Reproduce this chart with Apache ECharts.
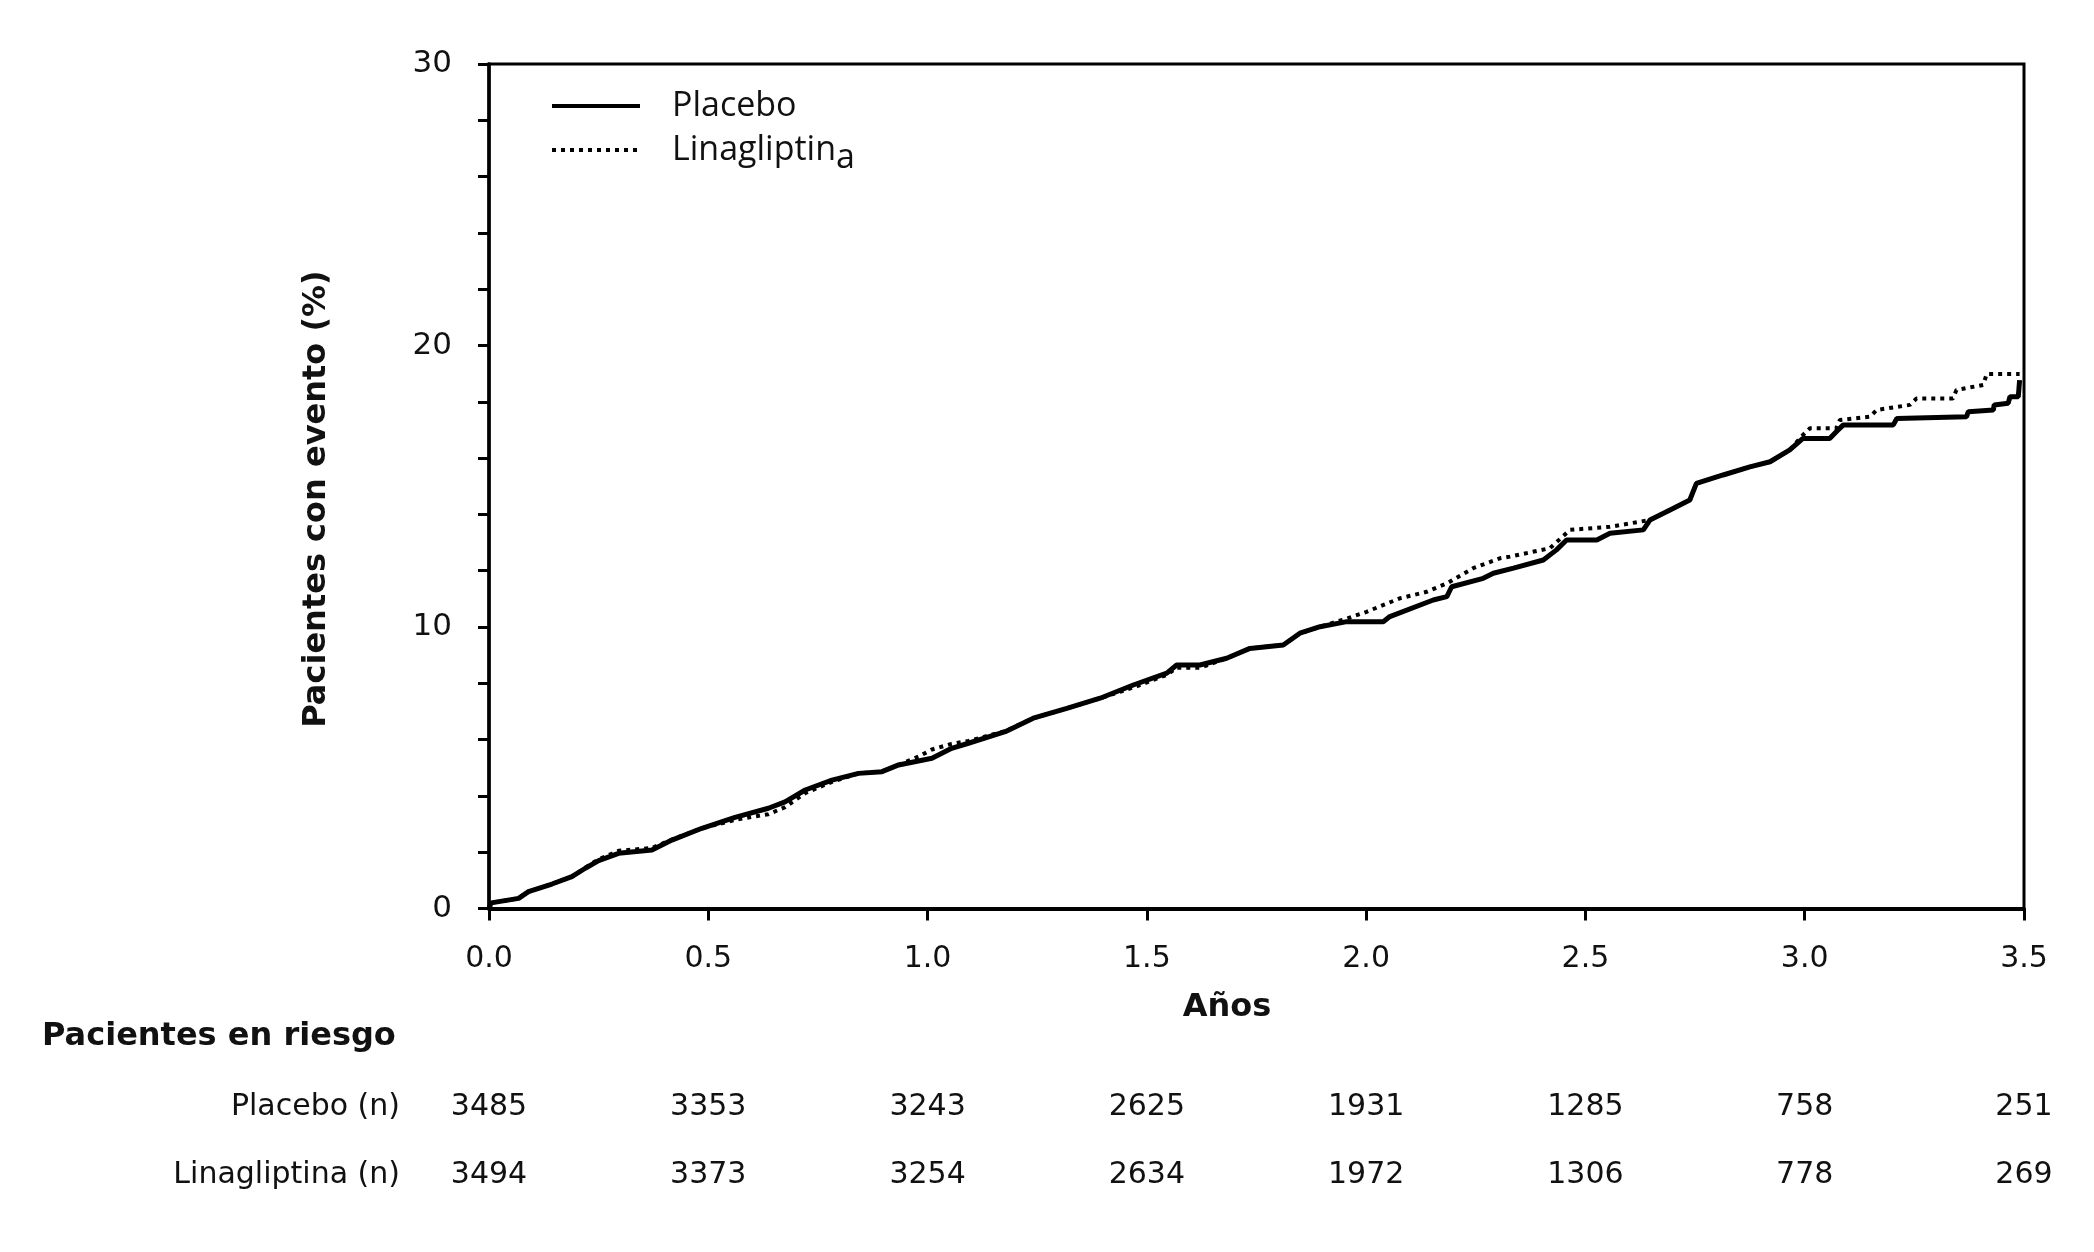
<!DOCTYPE html>
<html>
<head>
<meta charset="utf-8">
<script src="https://cdn.jsdelivr.net/npm/echarts@6/dist/echarts.min.js"></script>
<style>
html,body{margin:0;padding:0;background:#fff;}
#chart{width:2094px;height:1252px;}
</style>
</head>
<body>
<div id="chart"></div>
<script>
// ---- data ----
const xTicks = [0, 0.5, 1.0, 1.5, 2.0, 2.5, 3.0, 3.5];
const riskPlacebo = [3485, 3353, 3243, 2625, 1931, 1285, 758, 251];
const riskLina = [3494, 3373, 3254, 2634, 1972, 1306, 778, 269];

const placeboTime = [0, 0.005, 0.0675, 0.09, 0.1436, 0.189, 0.2195, 0.25, 0.2955, 0.3716, 0.417, 0.4855, 0.561, 0.637, 0.675, 0.721, 0.782, 0.8425, 0.896, 0.934, 1.01, 1.055, 1.093, 1.177, 1.241, 1.3175, 1.3934, 1.469, 1.5455, 1.568, 1.621, 1.682, 1.735, 1.811, 1.849, 1.895, 1.956, 2.039, 2.054, 2.153, 2.184, 2.195, 2.267, 2.29, 2.336, 2.404, 2.434, 2.457, 2.526, 2.556, 2.632, 2.647, 2.693, 2.738, 2.753, 2.814, 2.875, 2.921, 2.966, 2.996, 3.057, 3.072, 3.088, 3.202, 3.21, 3.369, 3.373, 3.43, 3.432, 3.464, 3.468, 3.487, 3.49];
const placeboPct = [0, 0.2, 0.36, 0.6, 0.87, 1.13, 1.43, 1.70, 1.96, 2.08, 2.43, 2.85, 3.24, 3.56, 3.79, 4.21, 4.56, 4.80, 4.86, 5.10, 5.34, 5.69, 5.87, 6.28, 6.76, 7.11, 7.47, 7.94, 8.36, 8.65, 8.65, 8.89, 9.24, 9.36, 9.78, 10.01, 10.19, 10.19, 10.37, 10.96, 11.08, 11.43, 11.73, 11.91, 12.09, 12.38, 12.74, 13.09, 13.09, 13.33, 13.45, 13.80, 14.16, 14.51, 15.10, 15.40, 15.69, 15.87, 16.29, 16.70, 16.70, 16.94, 17.18, 17.18, 17.41, 17.47, 17.65, 17.71, 17.89, 17.95, 18.18, 18.18, 18.77];

const linaTime = [0, 0.005, 0.0675, 0.09, 0.1436, 0.189, 0.2195, 0.25, 0.2955, 0.3716, 0.417, 0.4855, 0.561, 0.637, 0.675, 0.721, 0.782, 0.8425, 0.896, 0.934, 0.98, 1.01, 1.055, 1.093, 1.177, 1.241, 1.3175, 1.3934, 1.469, 1.5455, 1.568, 1.621, 1.682, 1.735, 1.811, 1.849, 1.895, 1.956, 2.001, 2.077, 2.138, 2.184, 2.244, 2.305, 2.328, 2.419, 2.465, 2.556, 2.624, 2.647, 2.693, 2.738, 2.753, 2.814, 2.875, 2.921, 2.966, 2.996, 3.012, 3.072, 3.08, 3.149, 3.164, 3.24, 3.255, 3.338, 3.346, 3.407, 3.415, 3.49];
const linaPct = [0, 0.2, 0.36, 0.6, 0.87, 1.13, 1.45, 1.75, 2.05, 2.15, 2.45, 2.85, 3.15, 3.35, 3.6, 4.1, 4.5, 4.8, 4.86, 5.1, 5.4, 5.65, 5.85, 5.95, 6.3, 6.76, 7.11, 7.47, 7.85, 8.3, 8.55, 8.55, 8.89, 9.24, 9.36, 9.78, 10.01, 10.3, 10.54, 11.02, 11.25, 11.55, 12.09, 12.44, 12.5, 12.8, 13.45, 13.56, 13.74, 13.80, 14.16, 14.51, 15.10, 15.40, 15.69, 15.87, 16.29, 16.82, 17.06, 17.06, 17.35, 17.47, 17.71, 17.89, 18.12, 18.12, 18.42, 18.60, 18.99, 18.99];

const zip = (a, b) => a.map((v, i) => [v, b[i]]);

const FONT = '"DejaVu Sans", "Liberation Sans", sans-serif';
const TXT = '#111';
const chart = echarts.init(document.getElementById('chart'));

const riskAxis = (arr, offset) => ({
  type: 'value', min: 0, max: 3.5, interval: 0.5, position: 'bottom', offset: offset,
  axisLine: { show: false }, axisTick: { show: false }, splitLine: { show: false },
  axisLabel: {
    show: true, showMinLabel: true, showMaxLabel: true, margin: 8,
    fontFamily: FONT, fontSize: 30, color: TXT,
    formatter: v => { const i = xTicks.findIndex(t => Math.abs(t - v) < 1e-6); return i >= 0 ? String(arr[i]) : ''; }
  }
});

chart.setOption({
  backgroundColor: '#fff',
  animation: false,
  grid: { left: 489, right: 70, top: 64, bottom: 343.5, show: true, borderColor: '#000', borderWidth: 3 },
  legend: {
    orient: 'vertical', left: 545, top: 84, itemWidth: 88, itemHeight: 14, itemGap: 10,
    data: ['Placebo', 'Linagliptina'],
    itemStyle: { opacity: 0 },
    lineStyle: { width: 4 },
    formatter: name => name === 'Linagliptina' ? 'Linagliptin{sub|a}' : name,
    textStyle: {
      fontFamily: '"Open Sans", sans-serif', fontSize: 34, color: TXT, padding: [0, 0, 0, 27],
      rich: { sub: { fontFamily: '"Open Sans", sans-serif', fontSize: 34, color: TXT, padding: [16, 0, 0, 0] } }
    }
  },
  xAxis: [
    {
      type: 'value', min: 0, max: 3.5, interval: 0.5, position: 'bottom',
      axisLine: { show: true, onZero: false, lineStyle: { color: '#000', width: 4 } },
      axisTick: { show: true, length: 12, lineStyle: { color: '#000', width: 3 } },
      splitLine: { show: false },
      axisLabel: { showMinLabel: true, showMaxLabel: true, margin: 36, fontFamily: FONT, fontSize: 30, color: TXT, formatter: v => v.toFixed(1) }
    },
    riskAxis(riskPlacebo, 176),
    riskAxis(riskLina, 244)
  ],
  yAxis: {
    type: 'value', min: 0, max: 30, interval: 2,
    axisLine: { show: true, lineStyle: { color: '#000', width: 3.5 } },
    axisTick: { show: true, length: 11, lineStyle: { color: '#000', width: 3 } },
    splitLine: { show: false },
    axisLabel: { margin: 37, fontFamily: FONT, fontSize: 31, color: TXT, formatter: v => (v % 10 === 0 ? String(v) : '') }
  },
  series: [
    {
      name: 'Linagliptina', type: 'line', xAxisIndex: 0, showSymbol: false, symbol: 'none',
      data: zip(linaTime, linaPct), z: 2,
      lineStyle: { color: '#000', width: 4, type: [4, 5] }, itemStyle: { color: '#000' }
    },
    {
      name: 'Placebo', type: 'line', xAxisIndex: 0, showSymbol: false, symbol: 'none',
      data: zip(placeboTime, placeboPct), z: 3,
      lineStyle: { color: '#000', width: 5, type: 'solid' }, itemStyle: { color: '#000' }
    }
  ],
  graphic: [
    { type: 'text', x: 317, y: 499, rotation: Math.PI / 2,
      style: { text: 'Pacientes con evento (%)', font: 'bold 32px ' + FONT, fill: TXT, textAlign: 'center', textVerticalAlign: 'middle' } },
    { type: 'text', x: 1227, y: 1008,
      style: { text: 'Años', font: 'bold 32px ' + FONT, fill: TXT, textAlign: 'center', textVerticalAlign: 'middle' } },
    { type: 'text', x: 42, y: 1037,
      style: { text: 'Pacientes en riesgo', font: 'bold 32px ' + FONT, fill: TXT, textAlign: 'left', textVerticalAlign: 'middle' } },
    { type: 'text', x: 400, y: 1107,
      style: { text: 'Placebo (n)', font: '30px ' + FONT, fill: TXT, textAlign: 'right', textVerticalAlign: 'middle' } },
    { type: 'text', x: 400, y: 1175,
      style: { text: 'Linagliptina (n)', font: '30px ' + FONT, fill: TXT, textAlign: 'right', textVerticalAlign: 'middle' } }
  ]
});
</script>
</body>
</html>
